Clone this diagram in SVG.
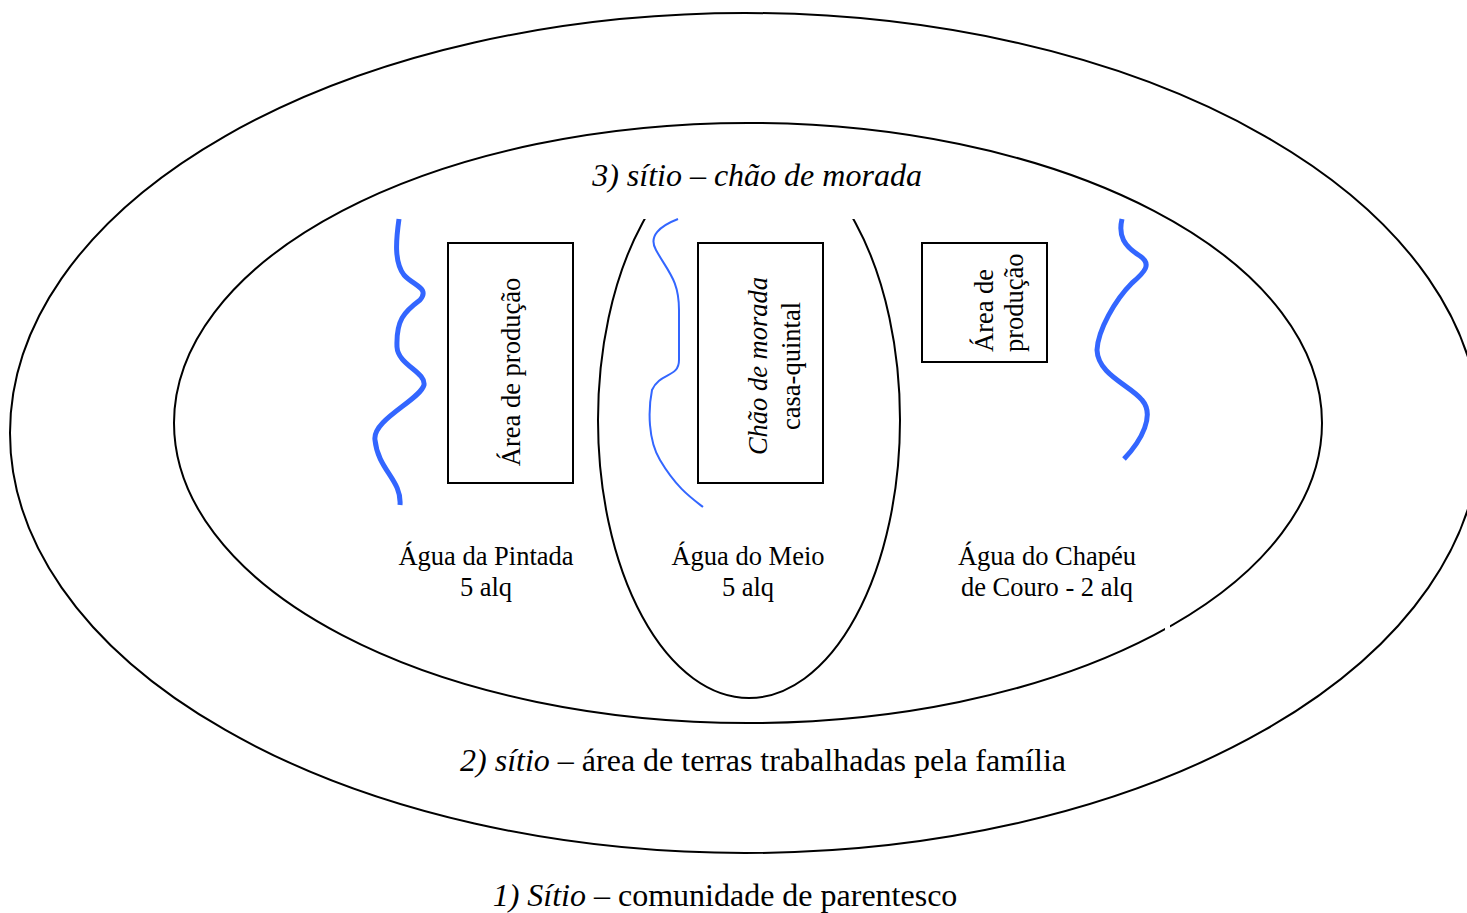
<svg xmlns="http://www.w3.org/2000/svg" width="1467" height="913" viewBox="0 0 1467 913">
<style>
.ln{fill:none;stroke:#000;stroke-width:2}
.box{fill:#fff;stroke:#000;stroke-width:2}
.t{font-family:"Liberation Serif","Times New Roman",serif;fill:#000}
.big{font-size:32px}
.sm{font-size:26.5px}
.it{font-style:italic}
.river{fill:none;stroke:#3366ff;stroke-linecap:butt;stroke-linejoin:round}
</style>
<defs>
<clipPath id="clipTop"><rect x="0" y="219" width="1467" height="700"/></clipPath>
</defs>
<rect width="1467" height="913" fill="#fff"/>
<g id="outer">
<ellipse class="ln" cx="745" cy="433" rx="735" ry="420"/>
</g>
<g id="middle">
<ellipse class="ln" cx="748" cy="423" rx="574" ry="300"/>
<rect x="1165" y="622" width="5" height="8" fill="#fff"/>
</g>
<g id="inner">
<ellipse class="ln" cx="749" cy="420" rx="151" ry="278" clip-path="url(#clipTop)"/>
</g>
<g id="rivers">
<path class="river" stroke-width="5" d="M399,219 C396,240 394,262 404,275 C414,286 430,288 420,300 C404,312 396,320 397,347 C398,365 426,372 424,385 C420,400 372,420 375,440 C378,470 402,480 400,505"/>
<path class="river" stroke-width="2" d="M678,219 C660,226 648,236 656,250 C668,272 679,280 679,310 L679,360 C679,378 660,372 652,390 C648,410 648,440 660,460 C676,487 690,497 703,507"/>
<path class="river" stroke-width="5" d="M1122,219 C1118,236 1124,246 1140,256 C1152,264 1145,272 1132,283 C1115,300 1098,330 1097,350 C1098,375 1130,385 1142,400 C1155,415 1142,440 1124,459"/>
</g>
<g id="box-left">
<rect class="box" x="448" y="243" width="125" height="240"/>
<text class="t sm" text-anchor="middle" transform="translate(520,372) rotate(-90)">Área de produção</text>
</g>
<g id="box-middle">
<rect class="box" x="698" y="243" width="125" height="240"/>
<text class="t sm it" text-anchor="middle" transform="translate(767,366) rotate(-90)">Chão de morada</text>
<text class="t sm" text-anchor="middle" transform="translate(800,366) rotate(-90)">casa-quintal</text>
</g>
<g id="box-right">
<rect class="box" x="922" y="243" width="125" height="119"/>
<text class="t sm" text-anchor="start" transform="translate(993,352) rotate(-90)">Área de</text>
<text class="t sm" text-anchor="start" transform="translate(1023,352) rotate(-90)">produção</text>
</g>
<g id="labels">
<text class="t big it" x="757" y="186" text-anchor="middle">3) sítio – chão de morada</text>
<text class="t sm" x="486" y="565" text-anchor="middle">Água da Pintada</text>
<text class="t sm" x="486" y="596" text-anchor="middle">5 alq</text>
<text class="t sm" x="748" y="565" text-anchor="middle">Água do Meio</text>
<text class="t sm" x="748" y="596" text-anchor="middle">5 alq</text>
<text class="t sm" x="1047" y="565" text-anchor="middle">Água do Chapéu</text>
<text class="t sm" x="1047" y="596" text-anchor="middle">de Couro - 2 alq</text>
<text class="t big" x="763" y="771" text-anchor="middle"><tspan class="it">2) sítio</tspan> – área de terras trabalhadas pela família</text>
<text class="t big" x="725" y="906" text-anchor="middle"><tspan class="it">1) Sítio</tspan> – comunidade de parentesco</text>
</g>
</svg>
